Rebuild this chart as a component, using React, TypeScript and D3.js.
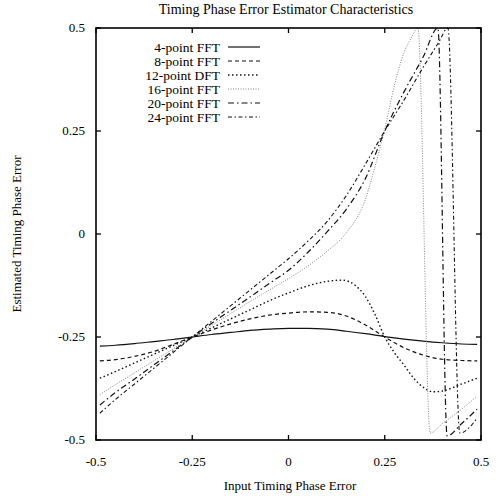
import React from 'react';
import * as d3 from 'd3';

// values: [input error, estimated error]
const fft4: [number, number][] = [
  [-0.49, -0.272], [-0.45, -0.27], [-0.4, -0.266], [-0.35, -0.261], [-0.3, -0.256], [-0.25, -0.25],
  [-0.2, -0.244], [-0.15, -0.239], [-0.1, -0.234], [-0.05, -0.231], [0, -0.229], [0.05, -0.229],
  [0.1, -0.231], [0.15, -0.236], [0.2, -0.242], [0.25, -0.249], [0.3, -0.255], [0.35, -0.26],
  [0.4, -0.264], [0.45, -0.267], [0.49, -0.268],
];
const fft8: [number, number][] = [
  [-0.49, -0.308], [-0.45, -0.305], [-0.4, -0.297], [-0.35, -0.285], [-0.3, -0.268], [-0.25, -0.25],
  [-0.2, -0.233], [-0.15, -0.218], [-0.1, -0.206], [-0.05, -0.197], [0, -0.192], [0.05, -0.189],
  [0.1, -0.19], [0.15, -0.199], [0.2, -0.221], [0.25, -0.25], [0.3, -0.276], [0.35, -0.294],
  [0.4, -0.304], [0.45, -0.307], [0.49, -0.308],
];
const dft12: [number, number][] = [
  [-0.49, -0.35], [-0.45, -0.334], [-0.4, -0.313], [-0.35, -0.292], [-0.3, -0.271], [-0.25, -0.25],
  [-0.2, -0.228], [-0.15, -0.206], [-0.1, -0.184], [-0.05, -0.162], [0, -0.143], [0.05, -0.126],
  [0.1, -0.115], [0.14, -0.112], [0.175, -0.126], [0.2, -0.152], [0.225, -0.196], [0.25, -0.25],
  [0.275, -0.288], [0.3, -0.318], [0.325, -0.35], [0.35, -0.372], [0.375, -0.383], [0.4, -0.381],
  [0.45, -0.364], [0.49, -0.35],
];
const fft16: [number, number][] = [
  [-0.49, -0.39], [-0.45, -0.366], [-0.4, -0.337], [-0.35, -0.308], [-0.3, -0.279], [-0.25, -0.25],
  [-0.2, -0.222], [-0.15, -0.193], [-0.1, -0.164], [-0.05, -0.136], [0, -0.108], [0.05, -0.078],
  [0.1, -0.042], [0.15, 0.003], [0.2, 0.085], [0.225, 0.165], [0.25, 0.255], [0.275, 0.36],
  [0.3, 0.44], [0.32, 0.478], [0.336, 0.5], [0.368, -0.483], [0.4, -0.46], [0.45, -0.425], [0.49, -0.393],
];
const fft20: [number, number][] = [
  [-0.49, -0.415], [-0.45, -0.385], [-0.4, -0.352], [-0.35, -0.318], [-0.3, -0.284], [-0.25, -0.25],
  [-0.2, -0.217], [-0.15, -0.185], [-0.1, -0.153], [-0.05, -0.12], [0, -0.088], [0.05, -0.045],
  [0.1, 0.005], [0.15, 0.06], [0.2, 0.135], [0.25, 0.25], [0.3, 0.345], [0.35, 0.43], [0.388, 0.5],
  [0.412, -0.49], [0.45, -0.46], [0.49, -0.425],
];
const fft24: [number, number][] = [
  [-0.49, -0.435], [-0.45, -0.402], [-0.4, -0.364], [-0.35, -0.326], [-0.3, -0.288], [-0.25, -0.25],
  [-0.2, -0.212], [-0.15, -0.174], [-0.1, -0.136], [-0.05, -0.098], [0, -0.06], [0.05, -0.018],
  [0.1, 0.03], [0.15, 0.093], [0.2, 0.17], [0.25, 0.25], [0.3, 0.325], [0.35, 0.405], [0.39, 0.465],
  [0.414, 0.5], [0.445, -0.483], [0.49, -0.447],
];

const seriesNames = ['4-point FFT', '8-point FFT', '12-point DFT', '16-point FFT', '20-point FFT', '24-point FFT'];
const ticks = [-0.5, -0.25, 0, 0.25, 0.5];
const tickLabels = ['-0.5', '-0.25', '0', '0.25', '0.5'];

const styles = [
  { dash: 'none', width: 1.2, color: '#111' },
  { dash: '4,3', width: 1.2, color: '#111' },
  { dash: '1.5,2.5', width: 1.4, color: '#111' },
  { dash: '1,1.5', width: 0.9, color: '#777' },
  { dash: '6,3,1.5,3', width: 1.2, color: '#111' },
  { dash: '4,2.5,1.5,2.5', width: 1.1, color: '#111' },
];

const W = 502;
const H = 496;
const left = 96, right = 481, top = 28, bottom = 440;
const font = '"Liberation Serif", "Times New Roman", serif';

export default function App() {
  const x = d3.scaleLinear().domain([-0.5, 0.5]).range([left, right]);
  const y = d3.scaleLinear().domain([-0.5, 0.5]).range([bottom, top]);
  const line = d3.line<[number, number]>()
    .x(d => x(d[0]))
    .y(d => y(d[1]))
    .curve(d3.curveMonotoneX);
  const data = [fft4, fft8, dft12, fft16, fft20, fft24];
  const tl = 5;

  return (
    <svg width={W} height={H} style={{ position: 'absolute', left: 0, top: 0, background: '#fff' }}>
      <text x={286} y={14} textAnchor="middle" fontFamily={font} fontSize={14}>
        Timing Phase Error Estimator Characteristics
      </text>

      {/* curves */}
      {data.map((d, i) => (
        <path key={i} d={line(d) || ''} fill="none" stroke={styles[i].color}
          strokeWidth={styles[i].width} strokeDasharray={styles[i].dash} />
      ))}

      {/* frame */}
      <rect x={left} y={top} width={right - left} height={bottom - top} fill="none" stroke="#000" strokeWidth={1.6} />

      {/* ticks on all four sides */}
      {ticks.map((t, i) => (
        <g key={'t' + i} stroke="#000" strokeWidth={1.3}>
          <line x1={x(t)} x2={x(t)} y1={bottom} y2={bottom - tl} />
          <line x1={x(t)} x2={x(t)} y1={top} y2={top + tl} />
          <line x1={left} x2={left + tl} y1={y(t)} y2={y(t)} />
          <line x1={right} x2={right - tl} y1={y(t)} y2={y(t)} />
        </g>
      ))}
      {ticks.map((t, i) => (
        <text key={'xl' + i} x={x(t)} y={bottom + 26} textAnchor="middle" fontFamily={font} fontSize={13}>
          {tickLabels[i]}
        </text>
      ))}
      {ticks.map((t, i) => (
        <text key={'yl' + i} x={left - 11} y={y(t) + 4} textAnchor="end" fontFamily={font} fontSize={13}>
          {tickLabels[i]}
        </text>
      ))}

      <text x={290} y={490} textAnchor="middle" fontFamily={font} fontSize={13}>Input Timing Phase Error</text>
      <text transform={`translate(21,${(top + bottom) / 2}) rotate(-90)`} textAnchor="middle"
        fontFamily={font} fontSize={13}>Estimated Timing Phase Error</text>

      {/* legend */}
      {seriesNames.map((n, i) => {
        const ly = 47 + i * 14;
        return (
          <g key={'lg' + i}>
            <text x={220} y={ly + 4.5} textAnchor="end" fontFamily={font} fontSize={13.5}>{n}</text>
            <line x1={228} x2={260} y1={ly} y2={ly} stroke={styles[i].color}
              strokeWidth={styles[i].width} strokeDasharray={styles[i].dash} />
          </g>
        );
      })}
    </svg>
  );
}
